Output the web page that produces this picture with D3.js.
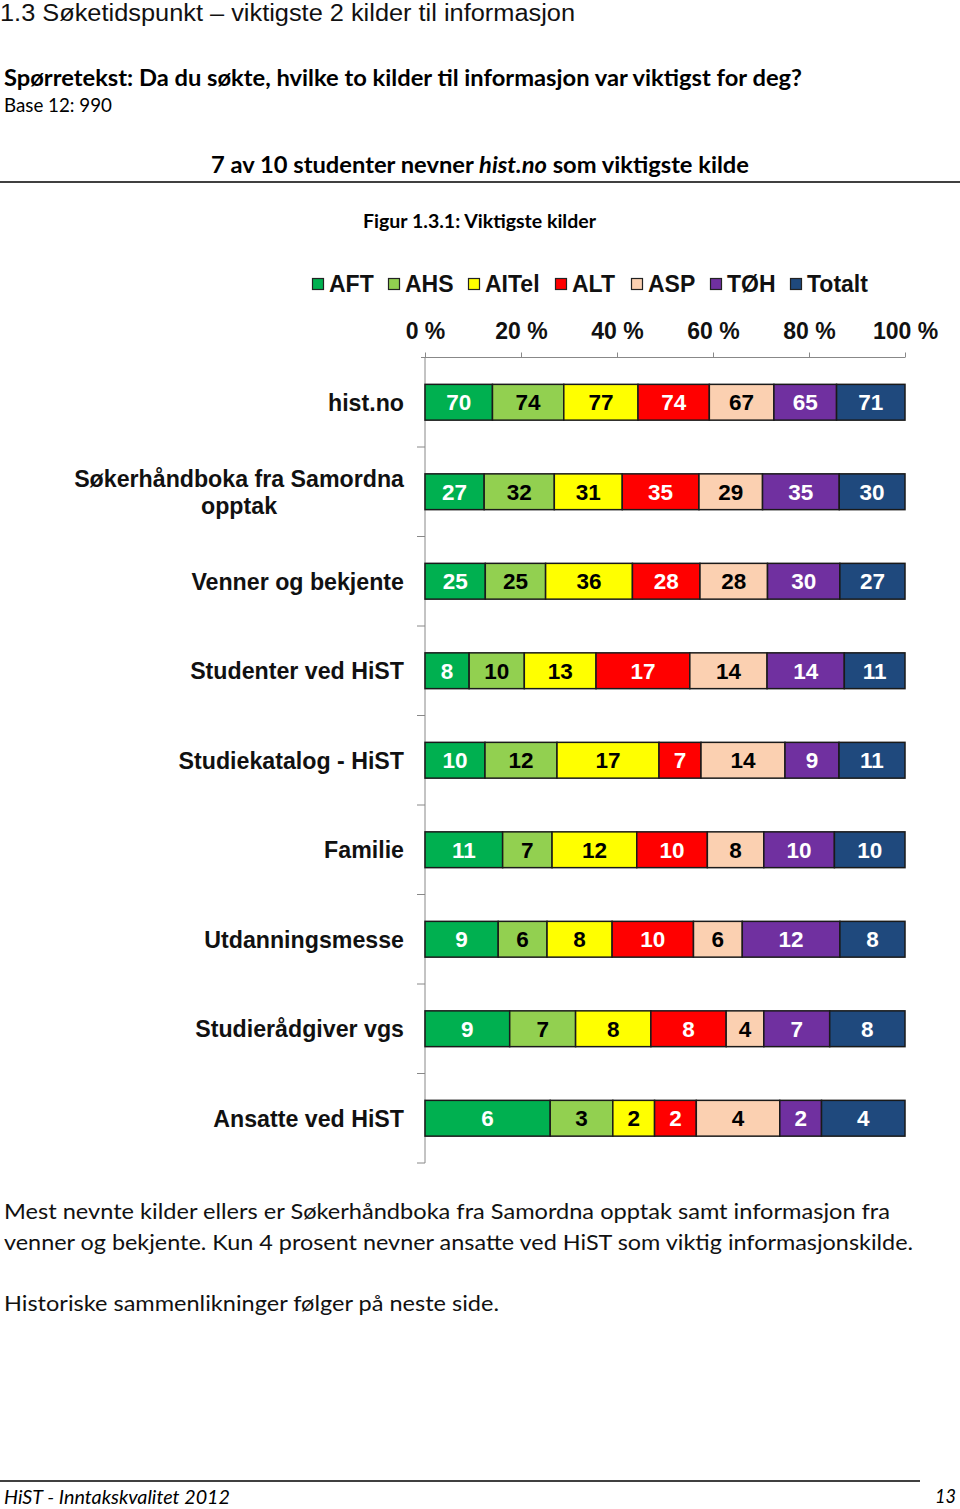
<!DOCTYPE html>
<html><head><meta charset="utf-8">
<script src="https://cdn.jsdelivr.net/npm/d3@7"></script>
<style>body{margin:0;background:#fff}svg{display:block}</style>
</head><body>
<svg id="c" width="960" height="1509"></svg>
<script>
const categories = ["hist.no","Søkerhåndboka fra Samordna opptak","Venner og bekjente","Studenter ved HiST","Studiekatalog - HiST","Familie","Utdanningsmesse","Studierådgiver vgs","Ansatte ved HiST"];
const seriesNames = ["AFT","AHS","AITel","ALT","ASP","TØH","Totalt"];
const AFT    = [70,27,25,8,10,11,9,9,6];
const AHS    = [74,32,25,10,12,7,6,7,3];
const AITel  = [77,31,36,13,17,12,8,8,2];
const ALT    = [74,35,28,17,7,10,10,8,2];
const ASP    = [67,29,28,14,14,8,6,4,4];
const TOH    = [65,35,30,14,9,10,12,7,2];
const Totalt = [71,30,27,11,11,10,8,8,4];
const tickValues = [0,0.2,0.4,0.6,0.8,1];
const colors = ["#00B050","#92D050","#FFFF00","#FF0000","#FBD0B1","#7030A0","#1F497D"];
const labelColors = ["#fff","#000","#000","#fff","#000","#fff","#fff"];

const seriesVals = [AFT,AHS,AITel,ALT,ASP,TOH,Totalt];
const rows = categories.map((c,i)=>{const o={cat:c}; seriesNames.forEach((s,j)=>o[s]=seriesVals[j][i]); return o;});

const svg = d3.select("#c");
const calibri = "Lato, 'Open Sans', sans-serif";
const arial = "'Liberation Sans', Arial, sans-serif";

// page texts
svg.append("text").attr("x",0).attr("y",21).attr("font-family",arial).attr("font-size",23.5).attr("fill","#111")
  .attr("textLength",575).attr("lengthAdjust","spacingAndGlyphs").text("1.3 Søketidspunkt – viktigste 2 kilder til informasjon");
svg.append("text").attr("x",4).attr("y",86).attr("font-family",calibri).attr("font-weight","bold").attr("font-size",22)
  .attr("textLength",798).attr("lengthAdjust","spacingAndGlyphs").text("Spørretekst: Da du søkte, hvilke to kilder til informasjon var viktigst for deg?");
svg.append("text").attr("x",4).attr("y",112).attr("font-family",calibri).attr("font-size",19)
  .attr("textLength",108).attr("lengthAdjust","spacingAndGlyphs").text("Base 12: 990");
const h2 = svg.append("text").attr("x",211).attr("y",173).attr("font-family",calibri).attr("font-weight","bold").attr("font-size",22)
  .attr("textLength",538).attr("lengthAdjust","spacingAndGlyphs");
h2.append("tspan").text("7 av 10 studenter nevner ");
h2.append("tspan").attr("font-style","italic").text("hist.no");
h2.append("tspan").text(" som viktigste kilde");
svg.append("line").attr("x1",0).attr("x2",960).attr("y1",182).attr("y2",182).attr("stroke","#000").attr("stroke-width",1.5);
svg.append("text").attr("x",363).attr("y",228).attr("font-family",calibri).attr("font-weight","bold").attr("font-size",18)
  .attr("textLength",233).attr("lengthAdjust","spacingAndGlyphs").text("Figur 1.3.1: Viktigste kilder");

const para = [["Mest nevnte kilder ellers er Søkerhåndboka fra Samordna opptak samt informasjon fra",1219,886],
  ["venner og bekjente. Kun 4 prosent nevner ansatte ved HiST som viktig informasjonskilde.",1250,909],
  ["Historiske sammenlikninger følger på neste side.",1311,495]];
para.forEach(p=>svg.append("text").attr("x",4).attr("y",p[1]).attr("font-family",calibri).attr("font-size",22)
  .attr("textLength",p[2]).attr("lengthAdjust","spacingAndGlyphs").attr("fill","#111").text(p[0]));
svg.append("line").attr("x1",0).attr("x2",920).attr("y1",1481).attr("y2",1481).attr("stroke","#000").attr("stroke-width",1.5);
svg.append("text").attr("x",4).attr("y",1504).attr("font-family",calibri).attr("font-style","italic").attr("font-size",19)
  .attr("textLength",226).attr("lengthAdjust","spacingAndGlyphs").text("HiST - Inntakskvalitet 2012");
svg.append("text").attr("x",935).attr("y",1503).attr("font-family",calibri).attr("font-style","italic").attr("font-size",19)
  .attr("textLength",21).attr("lengthAdjust","spacingAndGlyphs").text("13");

// chart
const x = d3.scaleLinear().domain([0,1]).range([425,905]);
const y = d3.scaleBand().domain(categories).range([357.5,1163]).paddingInner(0.6).paddingOuter(0.3);
const stack = d3.stack().keys(seriesNames).offset(d3.stackOffsetExpand);
const stacked = stack(rows);

// legend
const legendX = [312,388,468,555,631,710,790];
const lg = svg.append("g");
seriesNames.forEach((s,i)=>{
  lg.append("rect").attr("x",legendX[i]+0.5).attr("y",278.5).attr("width",11).attr("height",11)
    .attr("fill",colors[i]).attr("stroke","#222").attr("stroke-width",1.2);
  lg.append("text").attr("x",legendX[i]+17).attr("y",292).attr("font-family",arial).attr("font-weight","bold")
    .attr("font-size",23).attr("fill","#111").text(s);
});

// top axis
const xAxis = d3.axisTop(x).tickValues(tickValues).tickFormat(d=>Math.round(d*100)+" %").tickSizeInner(5).tickSizeOuter(0).tickPadding(14);
const gx = svg.append("g").attr("transform",`translate(0,${y.range()[0]})`).call(xAxis);
gx.select(".domain").attr("stroke","#888").attr("d",`M${x(0)-4},0H${x(1)}`);
gx.selectAll(".tick line").attr("stroke","#888");
gx.selectAll("text").attr("font-family",arial).attr("font-weight","bold").attr("font-size",23).attr("fill","#111");

// left axis line and band ticks
const gy = svg.append("g");
gy.append("line").attr("x1",x(0)).attr("x2",x(0)).attr("y1",y.range()[0]).attr("y2",y.range()[1]).attr("stroke","#888");
d3.range(1,categories.length+1).forEach(i=>{
  const yy = y.range()[0]+i*y.step();
  gy.append("line").attr("x1",x(0)-8).attr("x2",x(0)).attr("y1",yy).attr("y2",yy).attr("stroke","#888");
});

// bars
stacked.forEach((layer,i)=>{
  const g = svg.append("g");
  layer.forEach((d,k)=>{
    const cat = categories[k];
    g.append("rect").attr("x",x(d[0])).attr("y",y(cat)).attr("width",x(d[1])-x(d[0])).attr("height",y.bandwidth())
      .attr("fill",colors[i]).attr("stroke","#1a1a1a").attr("stroke-width",1.5);
    g.append("text").attr("x",(x(d[0])+x(d[1]))/2).attr("y",y(cat)+y.bandwidth()/2).attr("dy","0.36em")
      .attr("text-anchor","middle").attr("font-family",arial).attr("font-weight","bold").attr("font-size",22.5)
      .attr("fill",labelColors[i]).text(d.data[layer.key]);
  });
});

// category labels
const labX = 404;
categories.forEach(c=>{
  const cy = y(c)+y.bandwidth()/2;
  const t = svg.append("text").attr("font-family",arial).attr("font-weight","bold").attr("font-size",23.2).attr("fill","#111");
  t.text(c);
  const w = t.node().getComputedTextLength();
  if (w > 360) {
    const words = c.split(" ");
    let lines=[], cur="";
    t.text("");
    words.forEach(wd=>{
      const test = cur?cur+" "+wd:wd;
      t.text(test);
      if (t.node().getComputedTextLength()>360 && cur){lines.push(cur);cur=wd;} else cur=test;
    });
    lines.push(cur);
    t.text("");
    const widths = lines.map(l=>{t.text(l);return t.node().getComputedTextLength();});
    t.text("");
    const mw = d3.max(widths);
    const lh = 27;
    t.attr("text-anchor","middle");
    lines.forEach((l,j)=>{
      t.append("tspan").attr("x",labX-mw/2).attr("y",cy+(j-(lines.length-1)/2)*lh).attr("dy","0.36em").text(l);
    });
  } else {
    t.attr("text-anchor","end").attr("x",labX).attr("y",cy).attr("dy","0.36em");
  }
});
</script>
</body></html>
